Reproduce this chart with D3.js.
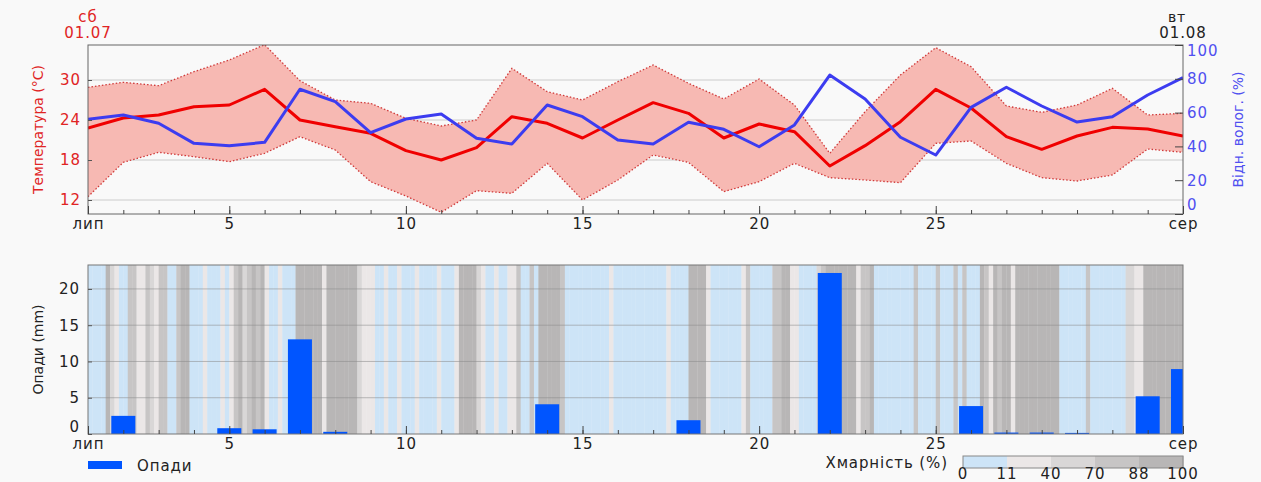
<!DOCTYPE html>
<html>
<head>
<meta charset="utf-8">
<script src="https://cdn.jsdelivr.net/npm/d3@7"></script>
<style>
body { margin: 0; background: #f9f9f9; }
text { font-family: "DejaVu Sans", sans-serif; }
.h { letter-spacing: 0.9px; }
</style>
</head>
<body>
<svg id="chart" width="1261" height="482"></svg>
<script>
// days of the month, 1 = 01.07, 32 = 01.08
const days = d3.range(1, 33);
const tempMean = [22.8,24.3,24.75,26,26.25,28.6,24,23,22,19.4,18,19.85,24.5,23.5,21.3,24,26.6,25,21.3,23.4,22.25,17.1,20.15,23.75,28.6,25.8,21.5,19.6,21.6,22.9,22.65,21.6];
const tempMax = [28.9,29.65,29.15,31.25,33,35.3,29.9,27,26.5,24.25,23.1,24,31.75,28.25,27,29.75,32.25,29.5,27.15,30.15,26.25,19,25.25,30.75,34.85,32,26.1,25.15,26.25,28.75,24.75,25];
const tempMin = [12.5,17.65,19.15,18.5,17.75,19,21.5,19.5,14.75,12.6,10.15,13.4,13,17.5,12,15,18.75,17.65,13.25,14.75,17.5,15.35,15,14.6,20.5,20.85,17.5,15.35,14.85,15.75,19.65,19.15];
const humidity = [56,58.6,53.7,41.8,40.4,42.4,73.8,66.5,48.1,56.2,59.2,44.8,41.4,64.5,57.6,43.8,41.4,54.3,50.1,39.8,52.7,82.2,68,45.4,34.9,63.1,75,63.9,54.4,57.6,70.4,80.7];
const precip = [0,2.5,0,0,0.8,0.65,13.05,0.3,0,0,0,0,0,4.1,0,0,0,1.9,0,0,0,22.2,0,0,0,3.85,0.2,0.2,0.15,0,5.2,8.95];

// cloud cover (%), 8 values per day (3-hourly), July 1..31
const cloud = [
  [0,0,0,0,90,50,20,5],
  [5,80,75,30,30,75,50,20],
  [80,85,5,5,75,95,95,5],
  [5,5,20,5,5,5,25,5],
  [15,85,90,40,85,90,85,90],
  [20,5,5,15,5,5,10,90],
  [92,95,95,95,95,30,90,88],
  [88,88,88,88,92,45,15,15],
  [15,5,5,20,5,5,20,5],
  [5,5,20,5,5,5,5,15],
  [5,5,5,20,92,95,92,90],
  [60,15,5,5,20,5,5,15],
  [20,85,5,5,80,5,90,92],
  [90,92,88,70,5,5,5,5],
  [5,5,5,5,5,5,25,5],
  [5,5,5,5,5,5,5,5],
  [5,5,5,20,5,5,5,10],
  [88,92,90,88,20,5,5,5],
  [5,5,5,5,30,85,5,5],
  [5,5,5,80,85,92,90,30],
  [30,5,5,5,5,60,85,88],
  [90,92,95,92,88,90,20,85],
  [85,88,5,5,5,5,5,5],
  [5,5,5,80,5,5,5,5],
  [80,5,5,5,85,5,80,5],
  [5,5,88,85,20,88,85,90],
  [90,20,92,95,95,95,95,95],
  [95,95,92,90,5,5,5,5],
  [5,5,80,5,5,10,10,10],
  [10,5,5,50,45,20,25,90],
  [92,95,95,95,95,95,92,95]
];

const dayTicks = [1, 5, 10, 15, 20, 25, 32];
const dayTickLabels = ["лип", "5", "10", "15", "20", "25", "сер"];
const tempTicks = [12, 18, 24, 30];
const humTicks = [0, 20, 40, 60, 80, 100];
const precipTicks = [0, 5, 10, 15, 20];
const cloudBreaks = [11, 40, 70, 88];
const cloudColors = ["#cde4f7", "#ebe7e7", "#d9d7d7", "#c7c5c5", "#b8b6b6"];
const cloudLegendLabels = ["0", "11", "40", "70", "88", "100"];

const svg = d3.select("#chart");
const left = 88, right = 1183;
const top1 = 45, bot1 = 214;
const top2 = 265, bot2 = 434;

const x = d3.scaleLinear().domain([1, 32]).range([left, right]);
const yT = d3.scaleLinear().domain([9.9, 35.25]).range([bot1, top1]);
const yH = d3.scaleLinear().domain([0, 100]).range([bot1, top1]);
const yP = d3.scaleLinear().domain([0, 23.3]).range([bot2, top2]);
const cloudColor = d3.scaleThreshold().domain(cloudBreaks).range(cloudColors);

svg.append("rect").attr("width", 1261).attr("height", 482).attr("fill", "#f9f9f9");

svg.append("defs").selectAll("clipPath")
  .data([["clip1", top1, bot1], ["clip2", top2, bot2]])
  .enter().append("clipPath").attr("id", d => d[0])
  .append("rect").attr("x", left).attr("y", d => d[1])
  .attr("width", right - left).attr("height", d => d[2] - d[1]);

// ---------- top chart: temperature + humidity ----------
const g1 = svg.append("g");
g1.selectAll(".grid1").data(tempTicks).enter().append("line")
  .attr("x1", left).attr("x2", right)
  .attr("y1", d => yT(d)).attr("y2", d => yT(d))
  .attr("stroke", "#cccccc").attr("stroke-width", 1);

const plot1 = g1.append("g").attr("clip-path", "url(#clip1)");
const band = d3.area().x((d, i) => x(days[i])).y0((d, i) => yT(tempMin[i])).y1(d => yT(d));
plot1.append("path").datum(tempMax).attr("d", band).attr("fill", "#f7b9b3");
const edge = arr => d3.line().x((d, i) => x(days[i])).y(d => yT(d))(arr);
[tempMax, tempMin].forEach(arr => {
  plot1.append("path").attr("d", edge(arr)).attr("fill", "none")
    .attr("stroke", "#d03a3a").attr("stroke-width", 1.3).attr("stroke-dasharray", "1.5,2");
});
plot1.append("path").attr("d", edge(tempMean)).attr("fill", "none")
  .attr("stroke", "#f00000").attr("stroke-width", 3).attr("stroke-linejoin", "round");
plot1.append("path")
  .attr("d", d3.line().x((d, i) => x(days[i])).y(d => yH(d))(humidity))
  .attr("fill", "none").attr("stroke", "#3c3cf0").attr("stroke-width", 3).attr("stroke-linejoin", "round");

g1.append("rect").attr("x", left).attr("y", top1).attr("width", right - left).attr("height", bot1 - top1)
  .attr("fill", "none").attr("stroke", "#666").attr("stroke-width", 1);

function dayAxes(g, y) {
  g.append("g").attr("transform", `translate(0,${y})`)
    .call(d3.axisBottom(x).tickValues(days).tickSize(-4).tickFormat(""))
    .call(a => a.select(".domain").remove())
    .call(a => a.selectAll("line").attr("stroke", "#444"));
  g.append("g").attr("transform", `translate(0,${y})`)
    .call(d3.axisBottom(x).tickValues(dayTicks).tickSize(-8).tickPadding(4)
      .tickFormat((d, i) => dayTickLabels[i]))
    .call(a => a.select(".domain").remove())
    .call(a => a.selectAll("line").attr("stroke", "#444"))
    .call(a => a.selectAll("text").attr("class", "h").attr("font-size", 15).attr("fill", "#222")
      .attr("font-family", "DejaVu Sans"));
}
dayAxes(g1, bot1);

g1.append("g").attr("transform", `translate(${left},0)`)
  .call(d3.axisLeft(yT).tickValues(tempTicks).tickSize(-4).tickPadding(7))
  .call(a => a.select(".domain").remove())
  .call(a => a.selectAll("line").attr("stroke", "#555"))
  .call(a => a.selectAll("text").attr("class", "h").attr("font-size", 15).attr("fill", "#e02424")
    .attr("font-family", "DejaVu Sans"));

g1.append("g").attr("transform", `translate(${right},0)`)
  .call(d3.axisRight(yH).tickValues(humTicks).tickSize(-8).tickPadding(4))
  .call(a => a.select(".domain").remove())
  .call(a => a.selectAll("line").attr("stroke", "#444"))
  .call(a => a.selectAll("text").attr("class", "h").attr("font-size", 15).attr("fill", "#5050f0")
    .attr("font-family", "DejaVu Sans")
    .attr("y", d => d === 100 ? 6 : d === 0 ? -9 : 0));

g1.append("text").attr("transform", `translate(43,${(top1 + bot1) / 2}) rotate(-90)`)
  .attr("text-anchor", "middle").attr("font-size", 14).attr("fill", "#e02424")
  .text("Температура (°C)");
g1.append("text").attr("transform", `translate(1243,${(top1 + bot1) / 2}) rotate(-90)`)
  .attr("text-anchor", "middle").attr("font-size", 14).attr("fill", "#5050f0")
  .text("Відн. волог. (%)");

g1.append("text").attr("class", "h").attr("x", x(1)).attr("y", 22).attr("text-anchor", "middle")
  .attr("font-size", 15).attr("fill", "#e02424").text("сб");
g1.append("text").attr("class", "h").attr("x", x(1)).attr("y", 38).attr("text-anchor", "middle")
  .attr("font-size", 15).attr("fill", "#e02424").text("01.07");
g1.append("text").attr("class", "h").attr("x", x(32) - 6).attr("y", 22).attr("text-anchor", "middle")
  .attr("font-size", 14).attr("fill", "#222").text("вт");
g1.append("text").attr("class", "h").attr("x", x(32)).attr("y", 38).attr("text-anchor", "middle")
  .attr("font-size", 15).attr("fill", "#222").text("01.08");

// ---------- bottom chart: cloud cover + precipitation ----------
const g2 = svg.append("g");
const plot2 = g2.append("g").attr("clip-path", "url(#clip2)");
const slots = cloud.flat();
plot2.selectAll(".cloud").data(slots).enter().append("rect")
  .attr("x", (d, i) => x(1 + i / 8))
  .attr("width", (d, i) => x(1 + (i + 1) / 8) - x(1 + i / 8) + 0.3)
  .attr("y", top2).attr("height", bot2 - top2)
  .attr("fill", d => cloudColor(d));

plot2.selectAll(".grid2").data(precipTicks.slice(1)).enter().append("line")
  .attr("x1", left).attr("x2", right)
  .attr("y1", d => yP(d)).attr("y2", d => yP(d))
  .attr("stroke", "#8a8a8a").attr("stroke-opacity", 0.55).attr("stroke-width", 1);

const barW = x(1.68) - x(1);
plot2.selectAll(".bar").data(days.filter((d, i) => precip[i] > 0)).enter().append("rect")
  .attr("x", d => x(d) - barW / 2).attr("width", barW)
  .attr("y", d => yP(precip[d - 1])).attr("height", d => bot2 - yP(precip[d - 1]))
  .attr("fill", "#0055ff");

g2.append("rect").attr("x", left).attr("y", top2).attr("width", right - left).attr("height", bot2 - top2)
  .attr("fill", "none").attr("stroke", "#777").attr("stroke-width", 1);

dayAxes(g2, bot2);

g2.append("g").attr("transform", `translate(${left},0)`)
  .call(d3.axisLeft(yP).tickValues(precipTicks).tickSize(-4).tickPadding(8))
  .call(a => a.select(".domain").remove())
  .call(a => a.selectAll("line").attr("stroke", "#555"))
  .call(a => a.selectAll("text").attr("class", "h").attr("font-size", 15).attr("fill", "#222")
    .attr("font-family", "DejaVu Sans")
    .attr("y", d => d === 0 ? -7 : 0));

g2.append("text").attr("transform", `translate(43,${(top2 + bot2) / 2}) rotate(-90)`)
  .attr("text-anchor", "middle").attr("font-size", 14).attr("fill", "#222")
  .text("Опади (mm)");

// ---------- legends ----------
svg.append("rect").attr("x", 88).attr("y", 461).attr("width", 34).attr("height", 8).attr("fill", "#0055ff");
svg.append("text").attr("class", "h").attr("x", 137).attr("y", 471).attr("font-size", 15).attr("fill", "#222").text("Опади");

svg.append("text").attr("class", "h").attr("x", 948).attr("y", 468).attr("text-anchor", "end")
  .attr("font-size", 15).attr("fill", "#222").text("Хмарність (%)");
const lx = d3.scaleLinear().domain([0, 5]).range([963, 1183]);
svg.selectAll(".lg").data(cloudColors).enter().append("rect")
  .attr("x", (d, i) => lx(i)).attr("width", lx(1) - lx(0) + 0.5)
  .attr("y", 456).attr("height", 12).attr("fill", d => d);
svg.append("rect").attr("x", 963).attr("y", 456).attr("width", 220).attr("height", 12)
  .attr("fill", "none").attr("stroke", "#888").attr("stroke-width", 1);
svg.selectAll(".lgt").data(cloudLegendLabels).enter().append("text")
  .attr("class", "h").attr("x", (d, i) => lx(i)).attr("y", 479).attr("text-anchor", "middle")
  .attr("font-size", 15).attr("fill", "#222").text(d => d);
</script>
</body>
</html>
